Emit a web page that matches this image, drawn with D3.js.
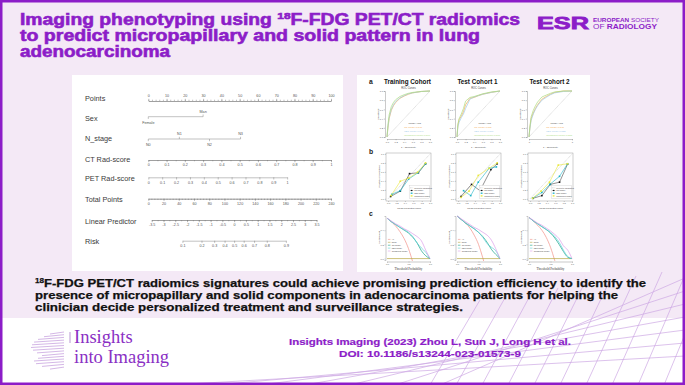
<!DOCTYPE html>
<html>
<head>
<meta charset="utf-8">
<script src="https://cdn.jsdelivr.net/npm/d3@7"></script>
<style>
  body { margin: 0; background: #fff; }
  svg { display: block; font-family: "Liberation Sans", Arial, sans-serif; }
</style>
</head>
<body>
<div id="abstract"></div>
<script>
// ---------- texts ----------
const titleLines = [
  ["Imaging phenotyping using ", "18", "F-FDG PET/CT radiomics"],
  ["to predict micropapillary and solid pattern in lung"],
  ["adenocarcinoma"]
]
const summaryLines = [
  ["", "18", "F-FDG PET/CT radiomics signatures could achieve promising prediction efficiency to identify the"],
  ["presence of micropapillary and solid components in adenocarcinoma patients for helping the"],
  ["clinician decide personalized treatment and surveillance strategies."]
]
const citationLines = ["Insights Imaging (2023) Zhou L, Sun J, Long H et al.", "DOI: 10.1186/s13244-023-01573-9"]

// ---------- nomogram ----------
const nomoRows = ["Points", "Sex", "N_stage", "CT Rad-score", "PET Rad-score", "Total Points", "Linear Predictor", "Risk"]
const pointsTicks = [0, 10, 20, 30, 40, 50, 60, 70, 80, 90, 100]
const sexLevels = ["Female", "Man"]
const sexPoints = [0, 30]
const nStageLevels = ["N0", "N1", "N2", "N3"]
const nStagePoints = [0, 17, 33.5, 50.5]
const ctScoreTicks = [0, 0.1, 0.2, 0.3, 0.4, 0.5, 0.6, 0.7, 0.8, 0.9, 1]
const ctScoreMaxPoints = 100
const petScoreTicks = [0, 0.1, 0.2, 0.3, 0.4, 0.5, 0.6, 0.7, 0.8, 0.9, 1]
const petScoreMaxPoints = 76
const totalPointsTicks = [0, 20, 40, 60, 80, 100, 120, 140, 160, 180, 200, 220, 240]
const lpTicks = [-3.5, -3, -2.5, -2, -1.5, -1, -0.5, 0, 0.5, 1, 1.5, 2, 2.5, 3, 3.5]
const lpTotalPoints = [4.5, 221]   // total points where the predictor reads -3.5 and 3.5
const riskTicks = [0.1, 0.2, 0.3, 0.4, 0.5, 0.6, 0.7, 0.8, 0.9]

// ---------- validation panels ----------
const cohorts = ["Training Cohort", "Test Cohort 1", "Test Cohort 2"]
const models = ["CT Model", "PET Model", "Combined Model"]
const rocAuc = [[0.848, 0.840, 0.870], [0.811, 0.806, 0.831], [0.845, 0.822, 0.858]]
const rocFpr = [0, 0.02, 0.05, 0.1, 0.15, 0.2, 0.3, 0.4, 0.5, 0.6, 0.8, 1]
const rocTprCT = [
  [0, 0.18, 0.40, 0.58, 0.68, 0.75, 0.84, 0.89, 0.93, 0.96, 0.99, 1],
  [0, 0.25, 0.38, 0.45, 0.55, 0.70, 0.84, 0.86, 0.90, 0.93, 0.97, 1],
  [0, 0.20, 0.40, 0.52, 0.62, 0.70, 0.82, 0.88, 0.93, 0.97, 1, 1]
]
const rocTprPET = [
  [0, 0.20, 0.42, 0.60, 0.70, 0.77, 0.85, 0.90, 0.94, 0.96, 0.99, 1],
  [0, 0.22, 0.32, 0.42, 0.50, 0.62, 0.82, 0.87, 0.90, 0.93, 0.97, 1],
  [0, 0.18, 0.36, 0.50, 0.60, 0.68, 0.80, 0.86, 0.92, 0.96, 0.99, 1]
]
const rocTprComb = [
  [0, 0.25, 0.48, 0.66, 0.75, 0.81, 0.88, 0.92, 0.95, 0.97, 0.99, 1],
  [0, 0.28, 0.40, 0.50, 0.62, 0.78, 0.86, 0.88, 0.91, 0.94, 0.98, 1],
  [0, 0.22, 0.44, 0.58, 0.68, 0.76, 0.87, 0.91, 0.95, 0.98, 1, 1]
]
const calibCT = [
  [[0.06, 0.05], [0.29, 0.17], [0.51, 0.56], [0.72, 0.58], [0.89, 0.78]],
  [[0.07, 0.05], [0.32, 0.32], [0.52, 0.18], [0.78, 0.65], [0.93, 0.78]],
  [[0.07, 0.01], [0.28, 0.07], [0.48, 0.32], [0.70, 0.37], [0.89, 0.77]]
]
const calibPET = [
  [[0.09, 0.10], [0.29, 0.18], [0.49, 0.44], [0.71, 0.58], [0.89, 0.78]],
  [[0.13, 0.18], [0.30, 0.07], [0.48, 0.37], [0.74, 0.68], [0.91, 0.71]],
  [[0.06, 0.01], [0.28, 0.14], [0.47, 0.32], [0.70, 0.50], [0.89, 0.78]]
]
const calibComb = [
  [[0.07, 0.07], [0.29, 0.39], [0.49, 0.46], [0.70, 0.59], [0.89, 0.80]],
  [[0.07, 0.03], [0.26, 0.17], [0.48, 0.52], [0.74, 0.68], [0.93, 0.80]],
  [[0.06, 0.01], [0.26, 0.17], [0.46, 0.37], [0.67, 0.75], [0.89, 0.78]]
]
const dcaThreshold = [0, 0.1, 0.2, 0.3, 0.4, 0.5, 0.6, 0.7, 0.8, 0.9, 1]
const dcaCT = [
  [0.57, 0.52, 0.48, 0.44, 0.40, 0.36, 0.30, 0.22, 0.11, 0.04, 0],
  [0.60, 0.55, 0.50, 0.46, 0.42, 0.37, 0.31, 0.23, 0.13, 0.06, 0],
  [0.58, 0.53, 0.49, 0.45, 0.41, 0.36, 0.29, 0.20, 0.10, 0.02, 0]
]
const dcaPET = [
  [0.57, 0.52, 0.48, 0.44, 0.41, 0.37, 0.31, 0.22, 0.15, 0.09, 0],
  [0.60, 0.55, 0.50, 0.46, 0.42, 0.37, 0.30, 0.21, 0.16, 0.11, 0],
  [0.58, 0.53, 0.49, 0.45, 0.41, 0.37, 0.31, 0.23, 0.12, 0.03, 0]
]
const dcaComb = [
  [0.57, 0.53, 0.49, 0.46, 0.42, 0.39, 0.35, 0.31, 0.25, 0.12, 0],
  [0.60, 0.56, 0.52, 0.48, 0.44, 0.41, 0.37, 0.33, 0.26, 0.14, 0],
  [0.58, 0.54, 0.50, 0.47, 0.43, 0.39, 0.34, 0.28, 0.18, 0.12, 0]
]
const dcaAllThreshold = [0, 0.1, 0.2, 0.3, 0.4, 0.5, 0.55, 0.6, 0.65]
const dcaAll = [
  [0.57, 0.52, 0.46, 0.38, 0.28, 0.14, 0.05, -0.05, -0.15],
  [0.60, 0.55, 0.50, 0.43, 0.33, 0.20, 0.11, 0.01, -0.10],
  [0.58, 0.53, 0.47, 0.40, 0.30, 0.16, 0.07, -0.03, -0.13]
]
const unitTicks = [0, 0.2, 0.4, 0.6, 0.8, 1]

// ---------- setup ----------
const width = 685, height = 385
const purple = "#8c1dc8"
const lavender = "#f4e9f6"
const axisGrey = "#777"

const svg = d3.select("#abstract").append("svg")
  .attr("width", width)
  .attr("height", height)

svg.append("rect").attr("width", width).attr("height", height).attr("fill", "#fff")
svg.append("rect").attr("width", width).attr("height", 318).attr("fill", lavender)

// decorative grid lines in the lower right corner
const deco = svg.append("g").attr("stroke", "#cda8e4").attr("stroke-width", 0.7)
for (let k = 0; k < 7; k++) {
  deco.append("line").attr("x1", 170 + k * 45).attr("y1", 385).attr("x2", 685).attr("y2", 356 - k * 13)
}
for (let k = 0; k < 11; k++) {
  deco.append("line").attr("x1", 430 + k * 26).attr("y1", 385).attr("x2", 480 + k * 26).attr("y2", 300 - k * 4)
}

// ---------- title ----------
function richLine(g, parts, x, y, size, len) {
  const t = g.append("text").attr("x", x).attr("y", y).attr("font-size", size)
  parts.forEach((p, i) => {
    if (!p) return
    const s = t.append("tspan").text(p)
    if (i === 1) s.attr("font-size", size * 0.62).attr("dy", -size * 0.38)
    if (i === 2) s.attr("dy", size * 0.38)
  })
  if (len) t.attr("textLength", len).attr("lengthAdjust", "spacingAndGlyphs")
  return t
}

const title = svg.append("g")
  .attr("fill", purple)
  .attr("stroke", purple)
  .attr("stroke-width", 0.6)
  .attr("font-weight", "bold")
const titleWidths = [500, 460, 150]
titleLines.forEach((parts, i) => richLine(title, parts, 20, 25 + i * 16.2, 16, titleWidths[i]))

// ESR logo
const esr = svg.append("g").attr("fill", purple)
esr.append("text").attr("x", 537).attr("y", 29).attr("font-size", 16.5).attr("font-weight", "900")
  .attr("stroke", purple).attr("stroke-width", 0.8)
  .attr("textLength", 52).attr("lengthAdjust", "spacingAndGlyphs").text("ESR")
const esrLine1 = esr.append("text").attr("x", 593).attr("y", 21.7).attr("font-size", 5.3)
  .attr("textLength", 66).attr("lengthAdjust", "spacingAndGlyphs")
esrLine1.append("tspan").attr("font-weight", "bold").text("EUROPEAN ")
esrLine1.append("tspan").text("SOCIETY")
const esrLine2 = esr.append("text").attr("x", 593).attr("y", 29).attr("font-size", 7.4)
  .attr("textLength", 64).attr("lengthAdjust", "spacingAndGlyphs")
esrLine2.append("tspan").text("OF ")
esrLine2.append("tspan").attr("font-weight", "bold").text("RADIOLOGY")

// ---------- nomogram ----------
svg.append("rect").attr("x", 72).attr("y", 75).attr("width", 271).attr("height", 196).attr("fill", "#fff")
const nomo = svg.append("g")

const labelBase = [101, 121, 141, 162, 181, 202, 223.5, 244]
nomo.selectAll("text.row").data(nomoRows).join("text")
  .attr("class", "row")
  .attr("x", 85)
  .attr("y", (d, i) => labelBase[i])
  .attr("font-size", 7.3)
  .attr("fill", "#3a3a3a")
  .text(d => d)

const pointsX = d3.scaleLinear().domain([0, 100]).range([148.3, 331])
const totalX = d3.scaleLinear().domain([0, 240]).range([148.3, 331])
const ctX = d3.scaleLinear().domain([0, 1]).range([pointsX(0), pointsX(ctScoreMaxPoints)])
const petX = d3.scaleLinear().domain([0, 1]).range([pointsX(0), pointsX(petScoreMaxPoints)])
const lpX = d3.scaleLinear().domain([lpTicks[0], lpTicks[lpTicks.length - 1]])
  .range(lpTotalPoints.map(totalX))
const logit = p => Math.log(p / (1 - p))
const riskX = d3.scaleLinear()
  .domain([logit(riskTicks[0]), logit(riskTicks[riskTicks.length - 1])])
  .range([lpX(logit(riskTicks[0])), lpX(logit(riskTicks[riskTicks.length - 1]))])

function styleAxis(g, fs, col) {
  g.select(".domain").attr("stroke", col || axisGrey).attr("stroke-width", 0.45)
  g.selectAll(".tick line").attr("stroke", col || axisGrey).attr("stroke-width", 0.45)
  g.selectAll(".tick text").attr("font-size", fs).attr("fill", "#555")
    .attr("font-family", "Liberation Sans, Arial, sans-serif")
}

function nomoAxis(scale, y, major, minor, top, fmt) {
  const make = top ? d3.axisTop : d3.axisBottom
  const g = nomo.append("g").attr("transform", "translate(0," + y + ")")
  if (minor) {
    g.append("g").call(make(scale).tickValues(minor).tickSize(1.3).tickSizeOuter(0).tickFormat(""))
      .call(s => styleAxis(s, 3.6))
  }
  g.append("g")
    .call(make(scale).tickValues(major).tickSize(2.2).tickSizeOuter(0).tickPadding(1.6)
      .tickFormat(fmt || (d => String(d))))
    .call(s => styleAxis(s, 3.7))
}

nomoAxis(pointsX, 101, pointsTicks, d3.range(0, 101, 2), true)
nomoAxis(ctX, 160, ctScoreTicks, d3.range(0, 1.001, 0.05))
nomoAxis(petX, 177.3, petScoreTicks)
nomoAxis(totalX, 198.7, totalPointsTicks, d3.range(0, 241, 4))
nomoAxis(lpX, 220, lpTicks, d3.range(-3.5, 3.51, 0.25))
nomoAxis(riskX, 240.7, riskTicks.map(logit), null, false, d => d3.format(".1f")(1 / (1 + Math.exp(-d))))

// categorical rows: labels alternate above / below the line
function categoryRow(levels, pts, y) {
  const g = nomo.append("g")
  g.append("line")
    .attr("x1", pointsX(d3.min(pts))).attr("x2", pointsX(d3.max(pts)))
    .attr("y1", y).attr("y2", y)
    .attr("stroke", axisGrey).attr("stroke-width", 0.45)
  const above = i => (levels.length === 2 ? i === 1 : i % 2 === 1)
  g.selectAll("line.tk").data(pts).join("line")
    .attr("class", "tk")
    .attr("x1", d => pointsX(d)).attr("x2", d => pointsX(d))
    .attr("y1", y).attr("y2", (d, i) => above(i) ? y - 2.2 : y + 2.2)
    .attr("stroke", axisGrey).attr("stroke-width", 0.45)
  g.selectAll("text").data(levels).join("text")
    .attr("x", (d, i) => pointsX(pts[i]))
    .attr("y", (d, i) => above(i) ? y - 4 : y + 7.4)
    .attr("text-anchor", "middle")
    .attr("font-size", 3.7)
    .attr("fill", "#555")
    .text(d => d)
}
categoryRow(sexLevels, sexPoints, 116.7)
categoryRow(nStageLevels, nStagePoints, 139)

// ---------- validation panels ----------
svg.append("rect").attr("x", 357).attr("y", 75).attr("width", 233).attr("height", 197).attr("fill", "#fff")
const rp = svg.append("g")
const colLeft = [387, 457, 529]
const plotW = 43
const colCenter = colLeft.map(x => x + plotW / 2)

rp.selectAll("text.panel").data(["a", "b", "c"]).join("text")
  .attr("class", "panel")
  .attr("x", 369).attr("y", (d, i) => [83.5, 153.5, 215.5][i])
  .attr("font-size", 6.8).attr("font-weight", "bold").attr("fill", "#222")
  .text(d => d)
rp.selectAll("text.cohort").data(cohorts).join("text")
  .attr("class", "cohort")
  .attr("x", (d, i) => colCenter[i] - 1).attr("y", 84)
  .attr("text-anchor", "middle")
  .attr("font-size", 6.3).attr("font-weight", "bold").attr("fill", "#111")
  .text(d => d)

const tiny = 2.5
function smallText(g, x, y, txt, opts) {
  const t = g.append("text").attr("x", x).attr("y", y).attr("font-size", (opts && opts.size) || tiny)
    .attr("fill", (opts && opts.fill) || "#444").attr("text-anchor", (opts && opts.anchor) || "middle").text(txt)
  if (opts && opts.rotate) t.attr("transform", "rotate(-90," + x + "," + y + ")")
  return t
}

const rocColours = ["#f5ad55", "#9fcbea", "#acdb7e"]
const rocTpr = [rocTprCT, rocTprPET, rocTprComb]
const calColours = ["#4a4a4a", "#1fb4c8", "#e9e83c"]
const calMarker = ["#111", "#1fb4c8", "#e9e83c"]
const calib = [calibCT, calibPET, calibComb]
const dcaColours = ["#16a386", "#5fd0d8", "#dc9ce9"]
const dca = [dcaCT, dcaPET, dcaComb]

cohorts.forEach((cohort, c) => {
  const x0 = colLeft[c]
  const fmt1 = d3.format(".1f")

  // ROC curves
  {
    const top = 91, h = 46
    const x = d3.scaleLinear().domain([0, 1]).range([x0, x0 + plotW])
    const y = d3.scaleLinear().domain([0, 1]).range([top + h, top])
    const g = rp.append("g")
    smallText(g, x(0.5), 88.6, "ROC Curves", { size: 2.6 })
    g.append("g").attr("transform", "translate(0," + (top + h + 2) + ")")
      .call(d3.axisBottom(x).tickValues(c === 2 ? [0, 1] : unitTicks).tickSize(1.2).tickPadding(0.8)
        .tickFormat(c === 2 ? d3.format("d") : fmt1))
      .call(s => styleAxis(s, 2.4, "#888"))
    g.append("g").attr("transform", "translate(" + (x0 - 2) + ",0)")
      .call(d3.axisLeft(y).tickValues(unitTicks).tickSize(1.2).tickPadding(0.8).tickFormat(fmt1))
      .call(s => styleAxis(s, 2.4, "#888"))
    smallText(g, x(0.5), top + h + 10.5, "1 - Specificity")
    smallText(g, x0 - 8, y(0.5), "Sensitivity", { rotate: true })
    g.append("line").attr("x1", x(0)).attr("y1", y(0)).attr("x2", x(1)).attr("y2", y(1))
      .attr("stroke", "#999").attr("stroke-width", 0.45).attr("stroke-dasharray", "0.8,0.8")
    const line = d3.line().x(d => x(d[0])).y(d => y(d[1]))
    models.forEach((m, i) => {
      g.append("path").datum(rocFpr.map((f, k) => [f, rocTpr[i][c][k]]))
        .attr("d", line).attr("fill", "none").attr("stroke", rocColours[i]).attr("stroke-width", 0.7)
    })
    smallText(g, x(0.5), y(0.29), "Model AUC", { size: 2.5, anchor: "start" })
    models.forEach((m, i) => {
      smallText(g, x(0.4), y(0.2 - i * 0.085), m + " " + rocAuc[c][i].toFixed(3),
        { size: 2.5, anchor: "start", fill: rocColours[i] })
    })
  }

  // calibration curves
  {
    const top = 153, h = 48
    const x = d3.scaleLinear().domain([-0.05, 1.02]).range([x0 - 1, x0 + plotW + 1])
    const y = d3.scaleLinear().domain([-0.05, 1.02]).range([top + h, top])
    const g = rp.append("g")
    g.append("rect").attr("x", x(-0.05)).attr("y", y(1.02)).attr("width", x(1.02) - x(-0.05))
      .attr("height", y(-0.05) - y(1.02)).attr("fill", "none").attr("stroke", "#888").attr("stroke-width", 0.4)
    g.append("g").attr("transform", "translate(0," + (top + h) + ")")
      .call(d3.axisBottom(x).tickValues(unitTicks).tickSize(1).tickPadding(0.8).tickFormat(fmt1))
      .call(s => { styleAxis(s, 2.3, "#888"); s.select(".domain").remove() })
    g.append("g").attr("transform", "translate(" + x(-0.05) + ",0)")
      .call(d3.axisLeft(y).tickValues(unitTicks).tickSize(1).tickPadding(0.8).tickFormat(fmt1))
      .call(s => { styleAxis(s, 2.3, "#888"); s.select(".domain").remove() })
    smallText(g, x(0.5), top + h + 7.5, "Mean predicted value")
    smallText(g, x0 - 7, y(0.5), "Fraction of positives", { rotate: true })
    g.append("line").attr("x1", x(0)).attr("y1", y(0)).attr("x2", x(1)).attr("y2", y(1))
      .attr("stroke", "#aaa").attr("stroke-width", 0.45).attr("stroke-dasharray", "1,0.8")
    const line = d3.line().x(d => x(d[0])).y(d => y(d[1]))
    models.forEach((m, i) => {
      g.append("path").datum(calib[i][c]).attr("d", line)
        .attr("fill", "none").attr("stroke", calColours[i]).attr("stroke-width", 0.6)
      g.selectAll("rect.m" + i).data(calib[i][c]).join("rect").attr("class", "m" + i)
        .attr("x", d => x(d[0]) - 0.8).attr("y", d => y(d[1]) - 0.8)
        .attr("width", 1.6).attr("height", 1.6).attr("fill", calMarker[i])
    })
    // legend
    const lx = x(0.5), ly = y(0.3)
    g.append("rect").attr("x", lx).attr("y", ly).attr("width", x(0.99) - lx).attr("height", y(0.0) - ly)
      .attr("fill", "#fff").attr("stroke", "#bbb").attr("stroke-width", 0.3)
    const entries = ["Perfectly calibrated"].concat(models)
    entries.forEach((e, i) => {
      const ey = ly + 2.5 + i * 2.7
      g.append("line").attr("x1", lx + 1).attr("x2", lx + 4).attr("y1", ey).attr("y2", ey)
        .attr("stroke", i === 0 ? "#aaa" : calColours[i - 1]).attr("stroke-width", 0.5)
        .attr("stroke-dasharray", i === 0 ? "0.8,0.6" : null)
      if (i > 0) {
        g.append("rect").attr("x", lx + 1.9).attr("y", ey - 0.6).attr("width", 1.2).attr("height", 1.2)
          .attr("fill", calMarker[i - 1])
      }
      smallText(g, lx + 5, ey + 0.8, e, { size: 2.1, anchor: "start" })
    })
  }

  // decision curves
  {
    const top = 216, h = 44
    const x = d3.scaleLinear().domain([0, 1]).range([x0, x0 + plotW])
    const y = d3.scaleLinear().domain([-0.02, 0.6]).range([top + h, top])
    const g = rp.append("g")
    const clipId = "dca" + c
    g.append("clipPath").attr("id", clipId).append("rect")
      .attr("x", x0 - 1).attr("y", top - 1).attr("width", plotW + 2).attr("height", h + 2)
    g.append("g").attr("transform", "translate(0," + (top + h + 1.5) + ")")
      .call(d3.axisBottom(x).tickValues([0, 0.5, 1]).tickSize(1).tickPadding(0.8).tickFormat(fmt1))
      .call(s => styleAxis(s, 2.3, "#888"))
    g.append("g").attr("transform", "translate(" + (x0 - 1.5) + ",0)")
      .call(d3.axisLeft(y).tickValues([0, 0.2, 0.4]).tickSize(1).tickPadding(0.8).tickFormat(fmt1))
      .call(s => styleAxis(s, 2.3, "#888"))
    g.append("text").attr("x", x(0.5)).attr("y", top + h + 9.5).attr("text-anchor", "middle")
      .attr("font-size", 3.2).attr("font-family", "Liberation Serif, serif").attr("fill", "#333")
      .text("Threshold Probability")
    smallText(g, x0 - 7, y(0.3), "Net Benefit", { rotate: true })
    const line = d3.line().x(d => x(d[0])).y(d => y(d[1])).curve(d3.curveMonotoneX)
    const plot = g.append("g").attr("clip-path", "url(#" + clipId + ")")
    plot.append("path").datum(dcaAllThreshold.map((t, k) => [t, dcaAll[c][k]]))
      .attr("d", line).attr("fill", "none").attr("stroke", "#f29088").attr("stroke-width", 0.7)
    plot.append("line").attr("x1", x(0)).attr("x2", x(1)).attr("y1", y(0)).attr("y2", y(0))
      .attr("stroke", "#b8a844").attr("stroke-width", 0.7)
    models.forEach((m, i) => {
      plot.append("path").datum(dcaThreshold.map((t, k) => [t, dca[i][c][k]]))
        .attr("d", line).attr("fill", "none")
        .attr("stroke", dcaColours[i]).attr("stroke-width", 0.7)
    })
    const leg = [["All", "#f29088"], ["None", "#b8a844"]].concat(models.map((m, i) => [m, dcaColours[i]]))
    leg.forEach((e, i) => {
      const ey = y(0.27) + i * 2.9
      g.append("line").attr("x1", x(0.02)).attr("x2", x(0.08)).attr("y1", ey).attr("y2", ey)
        .attr("stroke", e[1]).attr("stroke-width", 0.6)
      smallText(g, x(0.11), ey + 0.8, e[0], { size: 2.1, anchor: "start" })
    })
  }
})

// ---------- summary ----------
const summary = svg.append("g").attr("fill", "#111").attr("stroke", "#111").attr("stroke-width", 0.25)
  .attr("font-weight", "bold")
const summaryWidths = [611, 583, 428]
summaryLines.forEach((parts, i) => richLine(summary, parts, 35, 287 + i * 12.2, 11, summaryWidths[i]))

// ---------- footer ----------
const logo = svg.append("g").attr("stroke", "#c9a5e0").attr("stroke-width", 0.8)
const stripeLen = [14, 20, 26, 30, 32, 33, 31, 27, 22, 26, 30, 28, 22, 14]
stripeLen.forEach((len, i) => {
  logo.append("line").attr("x1", 31 + (33 - len)).attr("x2", 64).attr("y1", 334 + i * 2.7).attr("y2", 332 + i * 2.7)
})
logo.append("line").attr("x1", 70).attr("x2", 70).attr("y1", 332).attr("y2", 343).attr("stroke", "#a77cc8")

const brand = svg.append("g").attr("fill", "#8a2fc4").attr("font-family", "Liberation Serif, serif")
  .attr("font-size", 18.5)
brand.append("text").attr("x", 74).attr("y", 343).text("Insights")
brand.append("text").attr("x", 74).attr("y", 362.5).text("into Imaging")

svg.append("g").selectAll("text").data(citationLines).join("text")
  .attr("x", 430).attr("y", (d, i) => 344.5 + i * 12)
  .attr("text-anchor", "middle")
  .attr("font-size", 9.6).attr("font-weight", "bold")
  .attr("fill", purple).attr("stroke", purple).attr("stroke-width", 0.2)
  .attr("textLength", (d, i) => [282, 182][i]).attr("lengthAdjust", "spacingAndGlyphs")
  .text(d => d)

// frame
svg.append("rect").attr("x", 1.25).attr("y", 1.25).attr("width", width - 2.5).attr("height", height - 2.5)
  .attr("fill", "none").attr("stroke", purple).attr("stroke-width", 2.5)
</script>
</body>
</html>
